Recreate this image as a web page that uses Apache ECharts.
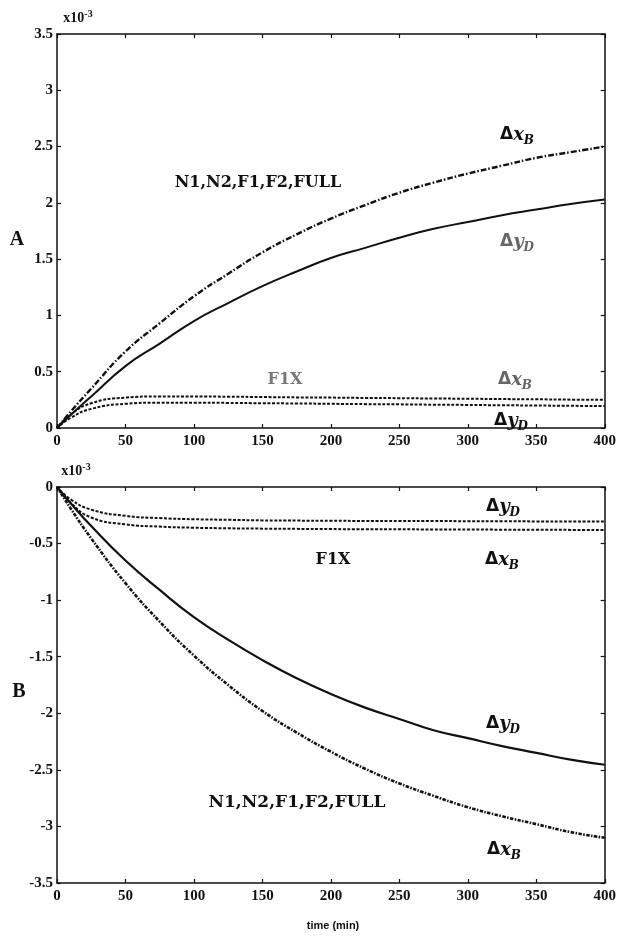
<!DOCTYPE html>
<html>
<head>
<meta charset="utf-8">
<script src="https://cdn.jsdelivr.net/npm/echarts@6/dist/echarts.min.js"></script>
<style>
  html, body { margin: 0; padding: 0; background: #fff; }
  #chart { width: 619px; height: 944px; }
</style>
</head>
<body>
<div id="chart"></div>
<script>
// time axis (min), values in units of 1e-3
var time = [0, 10, 25, 50, 75, 100, 125, 150, 175, 200, 225, 250, 275, 300, 325, 350, 375, 400];

// panel A
var topXB = [0, 0.145, 0.35, 0.68, 0.93, 1.17, 1.37, 1.56, 1.72, 1.86, 1.98, 2.09, 2.18, 2.26, 2.33, 2.40, 2.45, 2.50];
var topYD = [0, 0.115, 0.28, 0.55, 0.75, 0.95, 1.11, 1.26, 1.39, 1.51, 1.60, 1.69, 1.77, 1.83, 1.89, 1.94, 1.99, 2.03];
var topXB_F1X = [0, 0.12, 0.22, 0.27, 0.28, 0.28, 0.278, 0.275, 0.272, 0.27, 0.267, 0.265, 0.262, 0.26, 0.257, 0.255, 0.252, 0.25];
var topYD_F1X = [0, 0.09, 0.17, 0.215, 0.225, 0.225, 0.223, 0.22, 0.218, 0.215, 0.212, 0.21, 0.207, 0.205, 0.202, 0.2, 0.197, 0.195];

// panel B
var botYD = [0, -0.144, -0.345, -0.65, -0.91, -1.15, -1.35, -1.53, -1.69, -1.83, -1.95, -2.05, -2.15, -2.22, -2.29, -2.35, -2.41, -2.455];
var botXB = [0, -0.19, -0.455, -0.85, -1.19, -1.49, -1.75, -1.98, -2.17, -2.34, -2.49, -2.62, -2.73, -2.83, -2.91, -2.98, -3.05, -3.10];
var botYD_F1X = [0, -0.11, -0.20, -0.255, -0.275, -0.285, -0.29, -0.295, -0.297, -0.298, -0.3, -0.3, -0.301, -0.302, -0.303, -0.304, -0.305, -0.305];
var botXB_F1X = [0, -0.14, -0.27, -0.33, -0.35, -0.36, -0.365, -0.368, -0.37, -0.372, -0.373, -0.374, -0.375, -0.376, -0.377, -0.378, -0.379, -0.38];

function pairs(arr) {
    return time.map(function (t, i) { return [t, arr[i]]; });
}

var ink = '#111';
var serif = '"Liberation Serif", serif';
var dashDot = [6, 2, 1.5, 2];
var denseDash = [3.5, 1.4, 1.5, 1.4];
var dotted = [3, 1.6];

function line(idx, arr, dash, width) {
    return {
        type: 'line',
        xAxisIndex: idx,
        yAxisIndex: idx,
        data: pairs(arr),
        showSymbol: false,
        smooth: 0.5,
        silent: true,
        lineStyle: { color: ink, width: width, type: dash }
    };
}

function xAx(idx, pos, labels) {
    return {
        type: 'value', gridIndex: idx, position: pos,
        min: 0, max: 400, interval: 50,
        axisLine: { show: true, onZero: false, lineStyle: { color: ink, width: 1.5 } },
        axisTick: { show: true, inside: true, length: 4, lineStyle: { color: ink, width: 1.2 } },
        axisLabel: { show: labels, color: ink, fontFamily: serif, fontWeight: 'bold', fontSize: 15, margin: 6 },
        splitLine: { show: false }
    };
}

function yAx(idx, pos, min, max, labels) {
    return {
        type: 'value', gridIndex: idx, position: pos,
        min: min, max: max, interval: 0.5,
        axisLine: { show: true, onZero: false, lineStyle: { color: ink, width: 1.5 } },
        axisTick: { show: true, inside: true, length: 4, lineStyle: { color: ink, width: 1.2 } },
        axisLabel: { show: labels, color: ink, fontFamily: serif, fontWeight: 'bold', fontSize: 15, margin: 4 },
        splitLine: { show: false }
    };
}

var rich = {
    d: { fontFamily: '"DejaVu Sans"', fontWeight: 'bold', fontSize: 17, lineHeight: 24, verticalAlign: 'middle' },
    v: { fontFamily: '"DejaVu Serif"', fontWeight: 'bold', fontStyle: 'italic', fontSize: 18, lineHeight: 24, verticalAlign: 'middle' },
    s: { fontFamily: '"DejaVu Serif"', fontWeight: 'bold', fontStyle: 'italic', fontSize: 12, lineHeight: 24, verticalAlign: 'bottom' }
};

function delta(x, y, v, s, color) {
    return {
        type: 'text', x: x, y: y,
        style: {
            text: '{d|Δ}{v|' + v + '}{s|' + s + '}',
            rich: rich, fill: color, align: 'center', verticalAlign: 'middle'
        }
    };
}

function label(x, y, text, size, color) {
    return {
        type: 'text', x: x, y: y,
        style: {
            text: text, fill: color, align: 'center', verticalAlign: 'middle',
            font: 'bold ' + size + 'px "DejaVu Serif"'
        }
    };
}

function scale(x, y) {
    return {
        type: 'text', x: x, y: y,
        style: {
            text: '{a|x10}{b|-3}',
            align: 'center', verticalAlign: 'middle',
            rich: {
                a: { fontFamily: serif, fontWeight: 'bold', fontSize: 14, fill: ink, lineHeight: 16, verticalAlign: 'bottom' },
                b: { fontFamily: serif, fontWeight: 'bold', fontSize: 10, fill: ink, lineHeight: 16, verticalAlign: 'top' }
            }
        }
    };
}

var chart = echarts.init(document.getElementById('chart'));
chart.setOption({
    backgroundColor: '#fff',
    animation: false,
    grid: [
        { left: 57, right: 9, top: 34, height: 394 },
        { left: 57, right: 10, top: 487, height: 396 }
    ],
    xAxis: [
        xAx(0, 'bottom', true),
        xAx(1, 'bottom', true),
        xAx(0, 'top', false),
        xAx(1, 'top', false)
    ],
    yAxis: [
        yAx(0, 'left', 0, 3.5, true),
        yAx(1, 'left', -3.5, 0, true),
        yAx(0, 'right', 0, 3.5, false),
        yAx(1, 'right', -3.5, 0, false)
    ],
    series: [
        line(0, topXB, dashDot, 2.4),
        line(0, topYD, 'solid', 2),
        line(0, topXB_F1X, dotted, 2),
        line(0, topYD_F1X, dotted, 2),
        line(1, botXB, denseDash, 2.6),
        line(1, botYD, 'solid', 2.2),
        line(1, botYD_F1X, dotted, 2),
        line(1, botXB_F1X, dotted, 2)
    ],
    graphic: [
        scale(78, 17),
        scale(76, 470),
        { type: 'text', x: 17, y: 240, style: { text: 'A', font: 'bold 20px "Liberation Serif"', fill: ink, align: 'center', verticalAlign: 'middle' } },
        { type: 'text', x: 19, y: 692, style: { text: 'B', font: 'bold 20px "Liberation Serif"', fill: ink, align: 'center', verticalAlign: 'middle' } },
        { type: 'text', x: 333, y: 926, style: { text: 'time (min)', font: 'bold 11px "Liberation Sans"', fill: ink, align: 'center', verticalAlign: 'middle' } },

        label(258, 183, 'N1,N2,F1,F2,FULL', 16, ink),
        delta(517, 135, 'x', 'B', ink),
        delta(517, 242, 'y', 'D', '#666'),
        label(285, 380, 'F1X', 16, '#777'),
        delta(515, 380, 'x', 'B', '#666'),
        delta(511, 421, 'y', 'D', ink),

        delta(503, 507, 'y', 'D', ink),
        label(333, 560, 'F1X', 16, ink),
        delta(502, 560, 'x', 'B', ink),
        delta(503, 724, 'y', 'D', ink),
        label(297, 803, 'N1,N2,F1,F2,FULL', 17, ink),
        delta(504, 850, 'x', 'B', ink)
    ]
});
</script>
</body>
</html>
